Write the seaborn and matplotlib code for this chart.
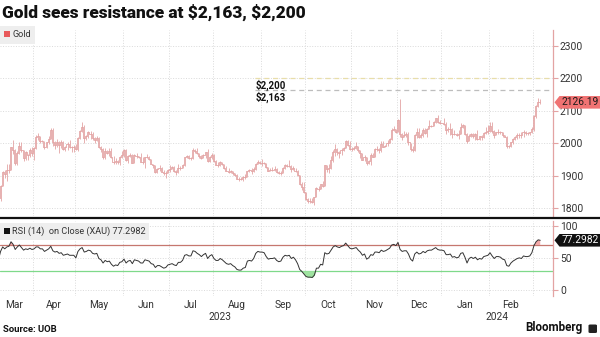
import numpy as np
import pandas as pd
import seaborn as sns
import matplotlib
matplotlib.use("Agg")
import matplotlib.pyplot as plt
from matplotlib.patches import Patch, Polygon, FancyBboxPatch
from matplotlib.lines import Line2D
import matplotlib.transforms as mtrans

# ---------------------------------------------------------------- data
start_date = "2023-03-08"
end_date = "2024-03-06"

# daily XAU close, one row per month (Mar-23 ... Mar-24)
close = [
    1814, 1831, 1868, 1913, 1904, 1918, 1919, 1989, 1979, 1940, 1970, 1993, 1978, 1956, 1973, 1964, 1980, 1969,
    1985, 2020, 2021, 2008, 2007, 1990, 2003, 2014, 2040, 2004, 1995, 2005, 1994, 2004, 1983, 1989, 1998, 1989, 1988, 1990,
    1983, 2017, 2039, 2050, 2017, 2021, 2034, 2030, 2015, 2011, 2017, 1989, 1982, 1958, 1977, 1971, 1975, 1957, 1941, 1946, 1943, 1959, 1963,
    1978, 1948, 1961, 1963, 1940, 1965, 1961, 1957, 1943, 1942, 1958, 1957, 1951, 1936, 1932, 1913, 1921, 1923, 1913, 1907, 1908, 1919,
    1921, 1926, 1915, 1911, 1925, 1925, 1932, 1957, 1961, 1955, 1955, 1979, 1976, 1969, 1962, 1955, 1965, 1972, 1946, 1959, 1965,
    1944, 1934, 1934, 1943, 1936, 1925, 1915, 1912, 1914, 1907, 1902, 1891, 1889, 1889, 1895, 1897, 1915, 1917, 1914, 1920, 1937, 1942, 1940,
    1940, 1939, 1926, 1916, 1919, 1919, 1922, 1913, 1907, 1910, 1924, 1934, 1931, 1930, 1920, 1925, 1915, 1901, 1874, 1864, 1849,
    1827, 1822, 1822, 1820, 1833, 1861, 1860, 1874, 1868, 1932, 1920, 1923, 1947, 1974, 1981, 1973, 1970, 1979, 1985, 2006, 1996, 1983,
    1982, 1985, 1992, 1978, 1969, 1950, 1958, 1940, 1946, 1963, 1959, 1981, 1981, 1978, 1998, 1990, 1992, 2002, 2013, 2041, 2044, 2036,
    2072, 2030, 2019, 2025, 2028, 2005, 1982, 1979, 2027, 2035, 2019, 2027, 2040, 2031, 2045, 2053, 2053, 2067, 2077, 2065, 2063,
    2063, 2059, 2041, 2043, 2045, 2028, 2030, 2024, 2029, 2049, 2055, 2029, 2006, 2023, 2029, 2021, 2029, 2014, 2021, 2018, 2032, 2036, 2039,
    2054, 2039, 2025, 2035, 2035, 2034, 2024, 2020, 1992, 1992, 2004, 2013, 2018, 2024, 2026, 2024, 2035, 2031, 2031, 2034, 2044,
    2083, 2115, 2128, 2126.19,
]

high = [
    1820, 1836, 1870, 1916, 1918, 1937, 1935, 1990, 2009, 1983, 1975, 2003, 2004, 1978, 1975, 1968, 1987, 1989,
    1990, 2025, 2032, 2022, 2011, 2008, 2005, 2022, 2048, 2048, 2007, 2012, 2008, 2009, 2006, 1993, 2004, 2009, 1993, 1996,
    1999, 2019, 2041, 2067, 2055, 2027, 2037, 2039, 2036, 2018, 2022, 2019, 1993, 1985, 1984, 1980, 1985, 1984, 1961, 1955, 1947, 1960, 1975,
    1983, 1983, 1963, 1970, 1967, 1966, 1971, 1962, 1971, 1959, 1958, 1968, 1960, 1951, 1937, 1934, 1924, 1933, 1928, 1917, 1915, 1921,
    1934, 1930, 1931, 1918, 1935, 1930, 1937, 1958, 1964, 1963, 1957, 1984, 1982, 1987, 1971, 1963, 1966, 1973, 1983, 1962, 1970,
    1966, 1950, 1941, 1946, 1942, 1937, 1930, 1923, 1917, 1915, 1910, 1904, 1896, 1896, 1898, 1904, 1916, 1922, 1925, 1926, 1938, 1949, 1946,
    1953, 1942, 1940, 1928, 1923, 1926, 1930, 1925, 1915, 1915, 1926, 1937, 1935, 1947, 1932, 1929, 1925, 1917, 1903, 1880, 1880,
    1849, 1830, 1830, 1830, 1834, 1864, 1867, 1875, 1885, 1933, 1932, 1937, 1962, 1978, 1997, 1985, 1976, 1987, 1990, 2009, 2009, 2007,
    1990, 1993, 2003, 1993, 1979, 1970, 1964, 1959, 1947, 1970, 1971, 1987, 1993, 1985, 2007, 2007, 1995, 2010, 2017, 2048, 2052, 2045,
    2076, 2135, 2031, 2037, 2034, 2034, 2002, 1991, 2029, 2047, 2048, 2033, 2047, 2047, 2047, 2071, 2055, 2069, 2078, 2088, 2073,
    2064, 2079, 2065, 2050, 2064, 2047, 2040, 2033, 2040, 2062, 2058, 2056, 2031, 2028, 2033, 2033, 2031, 2041, 2022, 2025, 2036, 2049, 2055,
    2065, 2066, 2040, 2036, 2043, 2038, 2036, 2027, 2023, 1995, 2005, 2016, 2023, 2031, 2031, 2035, 2041, 2038, 2036, 2036, 2049,
    2088, 2119, 2141, 2135,
]

low = [
    1809, 1810, 1822, 1867, 1892, 1885, 1910, 1918, 1967, 1934, 1934, 1967, 1972, 1944, 1949, 1949, 1959, 1962,
    1950, 1983, 2011, 2002, 2004, 1981, 1986, 1998, 2012, 1992, 1981, 1990, 1970, 1986, 1980, 1976, 1979, 1985, 1974, 1974,
    1978, 1976, 2013, 2034, 2000, 2010, 2017, 2013, 2009, 2001, 2006, 1987, 1974, 1953, 1952, 1968, 1962, 1954, 1937, 1936, 1937, 1932, 1955,
    1958, 1945, 1939, 1957, 1939, 1938, 1955, 1955, 1942, 1935, 1925, 1954, 1950, 1936, 1925, 1910, 1910, 1916, 1912, 1903, 1893, 1908,
    1913, 1920, 1913, 1902, 1910, 1917, 1923, 1931, 1955, 1952, 1947, 1952, 1970, 1968, 1955, 1952, 1954, 1955, 1943, 1943, 1951,
    1943, 1932, 1927, 1929, 1932, 1922, 1914, 1909, 1910, 1903, 1899, 1891, 1884, 1887, 1885, 1891, 1895, 1913, 1904, 1913, 1919, 1935, 1937,
    1931, 1937, 1924, 1915, 1914, 1915, 1916, 1908, 1904, 1901, 1909, 1922, 1928, 1928, 1913, 1919, 1912, 1899, 1871, 1857, 1847,
    1826, 1815, 1816, 1817, 1810, 1834, 1853, 1858, 1865, 1867, 1913, 1909, 1921, 1943, 1960, 1965, 1954, 1963, 1976, 1984, 1991, 1980,
    1975, 1979, 1981, 1974, 1956, 1947, 1945, 1932, 1937, 1933, 1957, 1959, 1975, 1969, 1974, 1988, 1988, 1991, 2000, 2011, 2037, 2031,
    2035, 2020, 2009, 2018, 2020, 1994, 1975, 1973, 1975, 2016, 2015, 2016, 2019, 2028, 2020, 2043, 2050, 2052, 2064, 2062, 2058,
    2062, 2057, 2030, 2035, 2024, 2016, 2024, 2021, 2013, 2029, 2046, 2024, 2002, 2006, 2018, 2016, 2010, 2011, 2009, 2010, 2017, 2029, 2030,
    2035, 2031, 2015, 2025, 2030, 2028, 2018, 2018, 1985, 1984, 1989, 1997, 2010, 2013, 2017, 2016, 2020, 2026, 2025, 2025, 2031,
    2039, 2078, 2112, 2122,
]

# RSI (14) on close
rsi = [
    41, 47, 60, 67, 64, 67, 68, 75, 71, 63, 67, 70, 66, 62, 64, 63, 65, 63,
    64, 67, 67, 64, 64, 60, 62, 64, 68, 61, 59, 60, 57, 58, 54, 55, 56, 54, 54, 54,
    50, 60, 64, 66, 59, 60, 62, 61, 57, 56, 57, 49, 47, 42, 46, 44, 45, 40, 37, 39, 38, 43, 44,
    48, 42, 45, 46, 41, 47, 46, 45, 42, 42, 47, 46, 45, 41, 40, 35, 38, 38, 36, 34, 35, 39,
    40, 41, 39, 38, 43, 43, 46, 54, 55, 53, 53, 61, 60, 57, 55, 52, 55, 57, 49, 53, 55,
    49, 46, 46, 49, 47, 44, 41, 40, 41, 38, 36, 32, 31, 31, 34, 35, 45, 46, 45, 49, 57, 60, 59,
    59, 58, 52, 48, 49, 49, 50, 46, 44, 45, 51, 54, 53, 54, 49, 51, 47, 41, 32, 29, 25,
    21, 20, 20, 19.5, 23, 34, 34, 40, 39, 58, 56, 57, 62, 67, 69, 67, 66, 68, 69, 73, 69, 65,
    64, 65, 66, 62, 59, 54, 56, 48, 50, 55, 54, 59, 59, 58, 62, 60, 61, 63, 65, 70, 71, 69,
    74, 63, 60, 61, 61, 56, 48, 45, 56, 59, 56, 57, 60, 58, 61, 62, 62, 64, 66, 63, 62,
    62, 61, 55, 55, 56, 51, 52, 50, 51, 57, 58, 51, 42, 49, 51, 49, 51, 47, 49, 48, 52, 53, 54,
    58, 53, 49, 52, 52, 51, 48, 47, 38, 37, 42, 45, 47, 49, 50, 49, 53, 52, 52, 53, 58,
    69, 75, 78, 77.2982,
]

resistance = [2163, 2200]
resistance_labels = ["$2,163", "$2,200"]
price_ticks = [1800, 1900, 2000, 2100, 2200, 2300]
rsi_ticks = [0, 50, 100]
rsi_overbought, rsi_oversold = 70, 30

title = "Gold sees resistance at $2,163, $2,200"
source = "Source: UOB"

# ---------------------------------------------------------------- frame
dates = pd.bdate_range(start_date, end_date)
df = pd.DataFrame({"date": dates, "close": close, "high": high, "low": low, "rsi": rsi})
df["i"] = np.arange(len(df))

sns.set_theme(style="white")
plt.rcParams["font.family"] = ["Roboto", "DejaVu Sans"]
plt.rcParams["axes.unicode_minus"] = False

W, H = 600, 337
fig = plt.figure(figsize=(W / 100, H / 100), dpi=100)
fig.patch.set_facecolor("white")


def box(x0, y0, x1, y1):
    return [x0 / W, 1 - y1 / H, (x1 - x0) / W, (y1 - y0) / H]


ax = fig.add_axes(box(0, 30, 553, 216))
ax2 = fig.add_axes(box(0, 221, 553, 296), sharex=ax)

BAR = "#e3a3a3"
GRID = "#dadada"
SPINE = "#e3a3a3"
TXT = "#333333"

# month boundaries / mid-month label positions on the trading-day axis
df["ym"] = df["date"].dt.to_period("M")
grp = df.groupby("ym")["i"].agg(["min", "max"])
bounds = (grp["min"] - 0.5).tolist()[1:]
x_left, x_right = 1.73, 266.1
mids, mlabels = [], []
for per, row in grp.iterrows():
    if row["max"] - row["min"] < 10:
        continue
    mids.append((row["min"] - 0.5 + row["max"] + 0.5) / 2)
    mlabels.append(per.strftime("%b"))

# ---------------------------------------------------------------- price panel
ax.vlines(df["i"], df["low"], df["high"], color=BAR, lw=0.6, zorder=3)
sns.lineplot(data=df, x="i", y="close", ax=ax, color=BAR, lw=0.6,
             drawstyle="steps-mid", estimator=None, zorder=3)
ax.set_xlim(x_left, x_right)
ax.set_ylim(1776, 2349)

for lvl, lab, col in zip(resistance, resistance_labels, ["#bdbdbd", "#e8deaa"]):
    ax.axhline(lvl, xmin=255 / 553, xmax=1, color=col, lw=0.9, ls=(0, (4, 3)), zorder=2)
    ax.annotate(lab, xy=(255 / 553, lvl), xycoords=("axes fraction", "data"),
                xytext=(0.5, -5.2), textcoords="offset points", ha="left", va="center",
                fontsize=7, fontweight="bold", color="#111111", parse_math=False)

ax.legend(handles=[Patch(facecolor="#e8595b", edgecolor="none")], labels=["Gold"],
          loc="upper left", bbox_to_anchor=(0, 1.02), borderaxespad=0, frameon=True,
          facecolor="#eeeeee", edgecolor="none", framealpha=1, fancybox=False,
          handlelength=0.65, handleheight=0.65, handletextpad=0.25, borderpad=0.45,
          fontsize=6.6, labelcolor=TXT)

# ---------------------------------------------------------------- RSI panel
ax2.axhline(rsi_overbought, color="#c6776f", lw=0.9, zorder=2)
ax2.axhline(rsi_oversold, color="#7fd98a", lw=0.9, zorder=2)
r = df["rsi"].to_numpy(float)
ax2.fill_between(df["i"], r, rsi_oversold, where=r < rsi_oversold, interpolate=True,
                 color="#9fe3a0", lw=0, zorder=2)
ax2.fill_between(df["i"], r, rsi_overbought, where=r > rsi_overbought, interpolate=True,
                 color="#f2a8a8", lw=0, zorder=2)
sns.lineplot(data=df, x="i", y="rsi", ax=ax2, color="#333333", lw=0.7,
             estimator=None, zorder=3)
ax2.set_ylim(-9.3, 107.3)
ax2.legend(handles=[Patch(facecolor="#111111", edgecolor="none")],
           labels=[f"RSI (14)  on Close (XAU) {rsi[-1]:.4f}"],
           loc="upper left", bbox_to_anchor=(0, 0.97), borderaxespad=0, frameon=True,
           facecolor="#eeeeee", edgecolor="none", framealpha=1, fancybox=False,
           handlelength=0.65, handleheight=0.65, handletextpad=0.25, borderpad=0.4,
           fontsize=6.6, labelcolor=TXT)

# ---------------------------------------------------------------- axes styling
for a, ticks in ((ax, price_ticks), (ax2, rsi_ticks)):
    a.set_facecolor("white")
    for s in ("left", "top", "bottom"):
        a.spines[s].set_visible(False)
    a.spines["right"].set_color(SPINE)
    a.spines["right"].set_linewidth(0.9)
    a.yaxis.tick_right()
    a.set_yticks(ticks)
    a.tick_params(axis="y", which="major", direction="out", length=3.5, width=0.8,
                  color=SPINE, pad=1.5, labelsize=7.4, labelcolor=TXT)
    a.set_xticks(bounds, minor=True)
    a.grid(False)
    a.grid(True, axis="y", which="major", color=GRID, lw=0.7, ls=":")
    a.grid(True, axis="x", which="minor", color=GRID, lw=0.7, ls=":")
    a.set_xlabel("")
    a.set_ylabel("")
    a.tick_params(axis="x", which="minor", length=0)

ax.tick_params(axis="x", which="both", labelbottom=False, length=0)
ax2.set_xticks(mids)
ax2.set_xticklabels(mlabels)
ax2.tick_params(axis="x", which="major", length=0, pad=3, labelsize=7.3, labelcolor=TXT)

# year labels centred under each year's visible span
year_tf = mtrans.blended_transform_factory(ax2.transData, ax2.transAxes)
for yr in sorted(df["date"].dt.year.unique()):
    ii = df.loc[df["date"].dt.year == yr, "i"]
    lo = max(ii.min() - 0.5, x_left)
    hi = min(ii.max() + 0.5, x_right) if yr != df["date"].dt.year.max() else x_right
    ax2.text((lo + hi) / 2, -0.28, str(yr), transform=year_tf, ha="center", va="center",
             fontsize=7.3, color=TXT)

# ---------------------------------------------------------------- last-value flags
def flag(a, value, text, face, color):
    y = a.transData.transform((x_left, value))[1]
    x0, x1, h = 554.5, 600.0, 6.3
    pts = [(x0, y), (x0 + 5, y + h), (x1, y + h), (x1, y - h), (x0 + 5, y - h)]
    fig.add_artist(Polygon([(px / W, py / H) for px, py in pts], closed=True,
                           transform=fig.transFigure, facecolor=face, edgecolor="none",
                           zorder=5))
    fig.text((x0 + 5 + x1) / 2 / W, y / H, text, ha="center", va="center",
             fontsize=7.4, color=color, zorder=6)


flag(ax, close[-1], f"{close[-1]:.2f}", "#f07373", "#1a1a1a")
flag(ax2, rsi[-1], f"{rsi[-1]:.4f}", "#111111", "white")

# ---------------------------------------------------------------- figure text
fig.add_artist(Line2D([0, 1], [1 - 218 / H] * 2, transform=fig.transFigure,
                      color="#111111", lw=1.6))
fig.text(2 / W, 1 - 12.5 / H, title, ha="left", va="center", fontsize=12.4,
         fontweight="heavy", color="#111111", parse_math=False)
fig.text(3 / W, 1 - 329 / H, source, ha="left", va="center", fontsize=6.8,
         fontweight="bold", color="#111111")
fig.text(583 / W, 1 - 328 / H, "Bloomberg", ha="right", va="center", fontsize=8.4,
         fontweight="bold", color="#111111")
fig.add_artist(FancyBboxPatch((588.5 / W, 1 - 333 / H), 8.5 / W, 8.5 / H,
                              boxstyle="round,pad=0,rounding_size=0.003",
                              transform=fig.transFigure, facecolor="#222222",
                              edgecolor="none"))

fig.savefig("out.png", dpi=100, facecolor="white")
